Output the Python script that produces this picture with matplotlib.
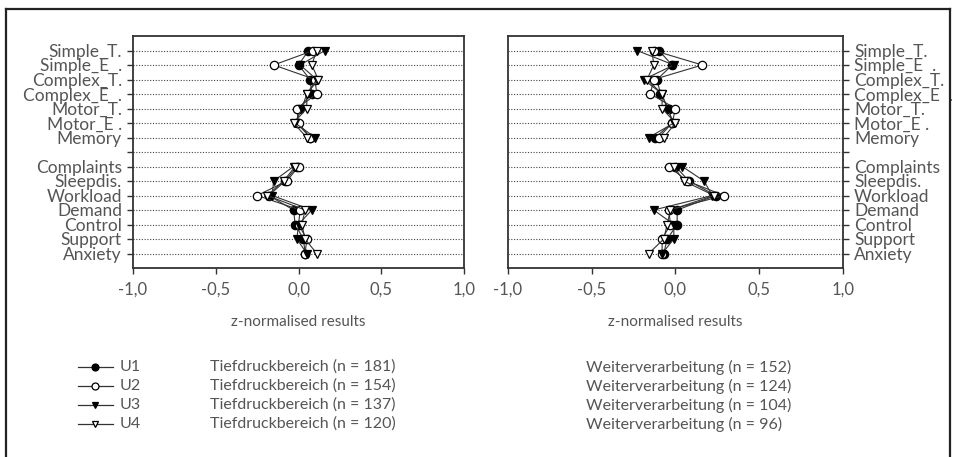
import numpy as np
import matplotlib
matplotlib.use("Agg")
import matplotlib.pyplot as plt
from matplotlib.lines import Line2D

plt.rcParams['font.family'] = ['Lato', 'DejaVu Sans']

# Row labels (blank row separates the test block from the questionnaire block)
row_labels = ["Simple_T.", "Simple_E  .", "Complex_T.", "Complex_E  .", "Motor_T.",
              "Motor_E .", "Memory", "", "Complaints", "Sleepdis.", "Workload",
              "Demand", "Control", "Support", "Anxiety"]

nan = np.nan
# Tiefdruckbereich
tief_u1 = [0.06, 0.00, 0.07, 0.08, 0.00, -0.01, 0.07, nan, -0.01, -0.08, -0.18, -0.03, -0.02, 0.03, 0.04]
tief_u2 = [0.09, -0.15, 0.10, 0.11, -0.01, 0.00, 0.07, nan, 0.00, -0.07, -0.25, 0.01, 0.00, 0.05, 0.04]
tief_u3 = [0.16, 0.01, 0.11, 0.05, 0.02, -0.02, 0.10, nan, -0.03, -0.15, -0.16, 0.08, 0.00, -0.01, 0.05]
tief_u4 = [0.11, 0.08, 0.12, 0.05, 0.05, -0.03, 0.05, nan, -0.02, -0.09, -0.19, 0.04, 0.02, 0.04, 0.11]
# Weiterverarbeitung
weit_u1 = [-0.10, -0.02, -0.11, -0.09, -0.04, -0.02, -0.12, nan, 0.00, 0.08, 0.24, 0.01, 0.01, -0.05, -0.07]
weit_u2 = [-0.13, 0.16, -0.13, -0.15, 0.00, -0.02, -0.10, nan, -0.04, 0.07, 0.29, -0.04, -0.03, -0.08, -0.08]
weit_u3 = [-0.23, -0.01, -0.19, -0.08, -0.05, -0.01, -0.16, nan, 0.04, 0.17, 0.22, -0.13, -0.01, -0.01, -0.08]
weit_u4 = [-0.14, -0.13, -0.17, -0.08, -0.08, 0.00, -0.07, nan, -0.01, 0.05, 0.23, -0.03, -0.05, -0.07, -0.16]

series_names = ["U1", "U2", "U3", "U4"]
tief_n = [181, 154, 137, 120]
weit_n = [152, 124, 104, 96]

x_ticks = [-1.0, -0.5, 0.0, 0.5, 1.0]
x_ticklabels = ["-1,0", "-0,5", "0,0", "0,5", "1,0"]

text_color = "#555555"
spine_color = "#333333"
styles = [
    dict(marker="o", markerfacecolor="black", markeredgecolor="black"),
    dict(marker="o", markerfacecolor="white", markeredgecolor="black"),
    dict(marker="v", markerfacecolor="black", markeredgecolor="black"),
    dict(marker="v", markerfacecolor="white", markeredgecolor="black"),
]

W, H = 954, 457
fig = plt.figure(figsize=(W / 100, H / 100), dpi=100)

# figure frame
for (x0, y0, x1, y1) in [(6, 9, 6, H), (6, 9, 950, 9), (950, 9, 950, H)]:
    fig.add_artist(Line2D([x0 / W, x1 / W], [1 - y0 / H, 1 - y1 / H],
                          color="#222222", lw=1.6, transform=fig.transFigure))

def panel(rect, data, side):
    ax = fig.add_axes(rect)
    y = np.arange(len(row_labels))
    for yy in y:
        ax.axhline(yy, color="#444444", lw=0.8, ls=(0, (1, 1.5)), zorder=1)
    for vals, st in zip(data, styles):
        ax.plot(vals, y, color="#333333", lw=0.8, markersize=6,
                markeredgewidth=0.9, zorder=3, **st)
    ax.set_xlim(-1, 1)
    ax.set_ylim(len(row_labels), -1)
    ax.set_xticks(x_ticks)
    ax.set_xticklabels(x_ticklabels, color=text_color, fontsize=12)
    ax.set_yticks(y)
    ax.set_yticklabels(row_labels, color=text_color, fontsize=12.5)
    ax.tick_params(axis="both", direction="out", length=4, width=1, color=spine_color, pad=6)
    ax.tick_params(axis="y", pad=4)
    if side == "right":
        ax.yaxis.tick_right()
    for sp in ax.spines.values():
        sp.set_color(spine_color)
        sp.set_linewidth(1.3)
    ax.set_xlabel("z-normalised results", color=text_color, fontsize=11, labelpad=12)
    return ax

ax_l = panel([133 / W, 1 - 268 / H, 331 / W, 232 / H],
             [tief_u1, tief_u2, tief_u3, tief_u4], "left")
ax_r = panel([508 / W, 1 - 268 / H, 335 / W, 232 / H],
             [weit_u1, weit_u2, weit_u3, weit_u4], "right")

# legend block
legend_y = [367, 386, 405, 424]
for i, (name, st) in enumerate(zip(series_names, styles)):
    yf = 1 - legend_y[i] / H
    fig.add_artist(Line2D([78 / W, 113 / W], [yf, yf], color="#333333", lw=0.9,
                          transform=fig.transFigure))
    fig.add_artist(Line2D([95.5 / W], [yf], lw=0, markersize=5,
                          markeredgewidth=0.9, transform=fig.transFigure, **st))
    fig.text(120 / W, yf, name, color=text_color, fontsize=11.5, va="center")
    fig.text(210 / W, yf, f"Tiefdruckbereich (n = {tief_n[i]})", color=text_color,
             fontsize=11.5, va="center")
    fig.text(586 / W, yf, f"Weiterverarbeitung (n = {weit_n[i]})", color=text_color,
             fontsize=11.5, va="center")

fig.savefig("out.png", dpi=100, facecolor="white")
